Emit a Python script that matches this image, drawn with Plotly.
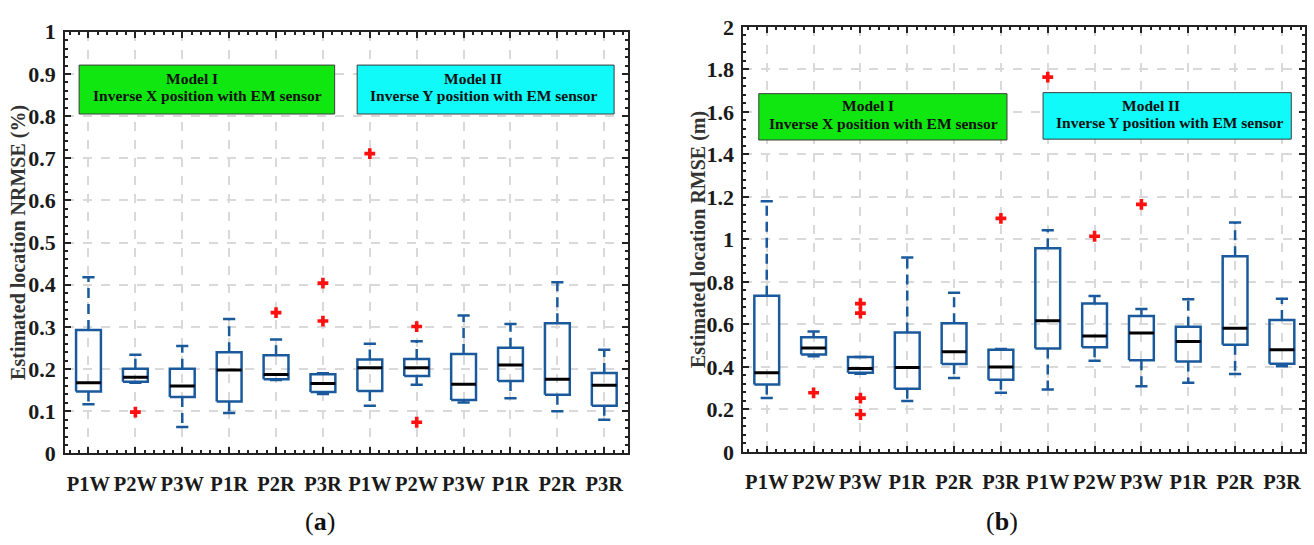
import plotly.graph_objects as go

# Category labels (Model I then Model II)
labels = ["P1W", "P2W", "P3W", "P1R", "P2R", "P3R",
          "P1W", "P2W", "P3W", "P1R", "P2R", "P3R"]

# (a) NRMSE (%) box statistics
a_lower = [0.117, 0.168, 0.063, 0.096, 0.174, 0.141, 0.113, 0.163, 0.121, 0.131, 0.100, 0.080]
a_q1    = [0.147, 0.170, 0.134, 0.123, 0.176, 0.146, 0.148, 0.184, 0.127, 0.172, 0.139, 0.113]
a_med   = [0.168, 0.181, 0.160, 0.198, 0.187, 0.166, 0.203, 0.203, 0.164, 0.210, 0.176, 0.162]
a_q3    = [0.293, 0.201, 0.201, 0.240, 0.233, 0.188, 0.223, 0.224, 0.236, 0.251, 0.309, 0.191]
a_upper = [0.418, 0.234, 0.255, 0.319, 0.270, 0.190, 0.260, 0.266, 0.327, 0.307, 0.406, 0.246]
a_out_x = [2, 5, 6, 6, 7, 8, 8]
a_out_y = [0.098, 0.334, 0.404, 0.314, 0.711, 0.301, 0.074]

# (b) RMSE (m) box statistics
b_lower = [0.254, 0.450, 0.368, 0.239, 0.348, 0.278, 0.294, 0.429, 0.309, 0.325, 0.367, 0.403]
b_q1    = [0.317, 0.458, 0.372, 0.297, 0.414, 0.340, 0.487, 0.492, 0.431, 0.425, 0.504, 0.415]
b_med   = [0.372, 0.489, 0.393, 0.397, 0.471, 0.400, 0.617, 0.546, 0.559, 0.520, 0.582, 0.481]
b_q3    = [0.735, 0.540, 0.447, 0.562, 0.606, 0.481, 0.959, 0.698, 0.640, 0.589, 0.921, 0.621]
b_upper = [1.180, 0.567, 0.447, 0.915, 0.749, 0.484, 1.043, 0.734, 0.673, 0.718, 1.080, 0.721]
b_out_x = [2, 3, 3, 3, 3, 6, 7, 8, 9]
b_out_y = [0.278, 0.698, 0.653, 0.253, 0.176, 1.099, 1.764, 1.015, 1.165]

BLUE = "#1a5a9c"
SERIF = "Times New Roman, Liberation Serif, serif"
HALF_BOX = 0.265
HALF_CAP = 0.13


def box_traces(lower, q1, med, q3, upper, out_x, out_y, xa, ya):
    xs = list(range(1, len(q1) + 1))
    bx, by, mx, my, wx, wy, cx, cy = [], [], [], [], [], [], [], []
    for x, lo, a, m, b, hi in zip(xs, lower, q1, med, q3, upper):
        bx += [x - HALF_BOX, x + HALF_BOX, x + HALF_BOX, x - HALF_BOX, x - HALF_BOX, None]
        by += [a, a, b, b, a, None]
        mx += [x - HALF_BOX, x + HALF_BOX, None]
        my += [m, m, None]
        wx += [x, x, None, x, x, None]
        wy += [b, hi, None, a, lo, None]
        cx += [x - HALF_CAP, x + HALF_CAP, None, x - HALF_CAP, x + HALF_CAP, None]
        cy += [hi, hi, None, lo, lo, None]
    common = dict(mode="lines", xaxis=xa, yaxis=ya, showlegend=False, hoverinfo="skip")
    return [
        go.Scatter(x=wx, y=wy, line=dict(color=BLUE, width=2.5, dash="10px,6px"), **common),
        go.Scatter(x=cx, y=cy, line=dict(color=BLUE, width=2.5), **common),
        go.Scatter(x=bx, y=by, line=dict(color=BLUE, width=2.5), **common),
        go.Scatter(x=mx, y=my, line=dict(color="black", width=3), **common),
        go.Scatter(x=out_x, y=out_y, mode="markers", xaxis=xa, yaxis=ya, showlegend=False,
                   marker=dict(symbol="cross", size=9, color="#ff1010", line=dict(width=0))),
    ]


fig = go.Figure()
for t in box_traces(a_lower, a_q1, a_med, a_q3, a_upper, a_out_x, a_out_y, "x", "y"):
    fig.add_trace(t)
for t in box_traces(b_lower, b_q1, b_med, b_q3, b_upper, b_out_x, b_out_y, "x2", "y2"):
    fig.add_trace(t)


def bold(items):
    return [f"<b>{s}</b>" for s in items]


axis_common = dict(
    showline=True, linecolor="#222222", linewidth=2, mirror="allticks",
    ticks="inside", ticklen=6, tickwidth=1.5, tickcolor="#222222",
    showgrid=True, gridcolor="#d9d9d9", gridwidth=1.5, griddash="dash",
    zeroline=False,
)
xcommon = dict(axis_common, range=[0.5, 12.5], tickvals=list(range(1, 13)), ticktext=bold(labels),
               tickangle=0, tickfont=dict(family=SERIF, size=20.5, color="#1a1a1a"),
               minor=dict(ticks="inside", ticklen=3, tickwidth=1.5, tickcolor="#222222",
                          tick0=1, dtick=0.2, showgrid=False),
               ticklabelstandoff=11)
ycommon = dict(axis_common, tickfont=dict(family=SERIF, size=22, color="#1a1a1a"),
               ticklabelstandoff=3)

a_ticks = [round(0.1 * k, 1) for k in range(11)]
a_ticktext = ["0"] + [f"{v:.1f}" for v in a_ticks[1:-1]] + ["1"]
b_ticks = [round(0.2 * k, 1) for k in range(11)]
b_ticktext = [("%g" % v) for v in b_ticks]

fig.update_layout(
    width=1314, height=545,
    margin=dict(l=0, r=0, t=0, b=0),
    paper_bgcolor="white", plot_bgcolor="white",
    xaxis=dict(xcommon, domain=[0.0495, 0.4777], anchor="y"),
    yaxis=dict(ycommon, domain=[0.151, 0.962], anchor="x", range=[0, 1],
               tickvals=a_ticks, ticktext=bold(a_ticktext),
               minor=dict(ticks="inside", ticklen=3, tickwidth=1.5, tickcolor="#222222",
                          dtick=0.02, showgrid=False)),
    xaxis2=dict(xcommon, domain=[0.5657, 0.9934], anchor="y2"),
    yaxis2=dict(ycommon, domain=[0.1541, 0.9712], anchor="x2", range=[0, 2],
                tickvals=b_ticks, ticktext=bold(b_ticktext),
                minor=dict(ticks="inside", ticklen=3, tickwidth=1.5, tickcolor="#222222",
                           dtick=0.04, showgrid=False)),
)

# Model legend boxes
GREEN = "#10e610"
CYAN = "#10fafa"
boxes = [
    ("x", "y", 0.80, 6.25, 0.805, 0.921, GREEN),
    ("x", "y", 6.73, 12.21, 0.805, 0.921, CYAN),
    ("x2", "y2", 0.83, 6.13, 1.468, 1.686, GREEN),
    ("x2", "y2", 6.90, 12.20, 1.472, 1.691, CYAN),
]
for xr, yr, x0, x1, y0, y1, col in boxes:
    fig.add_shape(type="rect", xref=xr, yref=yr, x0=x0, x1=x1, y0=y0, y1=y1,
                  fillcolor=col, line=dict(color="#3c3c3c", width=1), layer="above")

txt_font = dict(family=SERIF, size=15.5, color="#111111")
box_text = [
    (192 / 1314, (545 - 70) / 545, "Model I"),
    (207 / 1314, (545 - 88) / 545, "Inverse X position with EM sensor"),
    (473 / 1314, (545 - 70) / 545, "Model II"),
    (484 / 1314, (545 - 88) / 545, "Inverse Y position with EM sensor"),
    (868 / 1314, (545 - 98.5) / 545, "Model I"),
    (883 / 1314, (545 - 117) / 545, "Inverse X position with EM sensor"),
    (1151 / 1314, (545 - 97.5) / 545, "Model II"),
    (1170 / 1314, (545 - 116) / 545, "Inverse Y position with EM sensor"),
]
for x, y, t in box_text:
    fig.add_annotation(x=x, y=y, xref="paper", yref="paper", text=f"<b>{t}</b>", showarrow=False,
                       font=txt_font, xanchor="center", yanchor="middle")

# Axis titles and panel captions
title_font = dict(family=SERIF, size=20, color="#333333")
fig.add_annotation(x=19 / 1314, y=(545 - 242) / 545, xref="paper", yref="paper",
                   text="<b>Estimated location NRMSE (%)</b>", textangle=-90, showarrow=False,
                   font=title_font, xanchor="center", yanchor="middle")
fig.add_annotation(x=698 / 1314, y=(545 - 239) / 545, xref="paper", yref="paper",
                   text="<b>Estimated location RMSE (m)</b>", textangle=-90, showarrow=False,
                   font=title_font, xanchor="center", yanchor="middle")

cap_font = dict(family=SERIF, size=26, color="#111111")
fig.add_annotation(x=320 / 1314, y=(545 - 534) / 545, xref="paper", yref="paper",
                   text="(<b>a</b>)", showarrow=False, font=cap_font,
                   xanchor="center", yanchor="middle")
fig.add_annotation(x=1002 / 1314, y=(545 - 534) / 545, xref="paper", yref="paper",
                   text="(<b>b</b>)", showarrow=False, font=cap_font,
                   xanchor="center", yanchor="middle")

fig.write_html("out.html")
